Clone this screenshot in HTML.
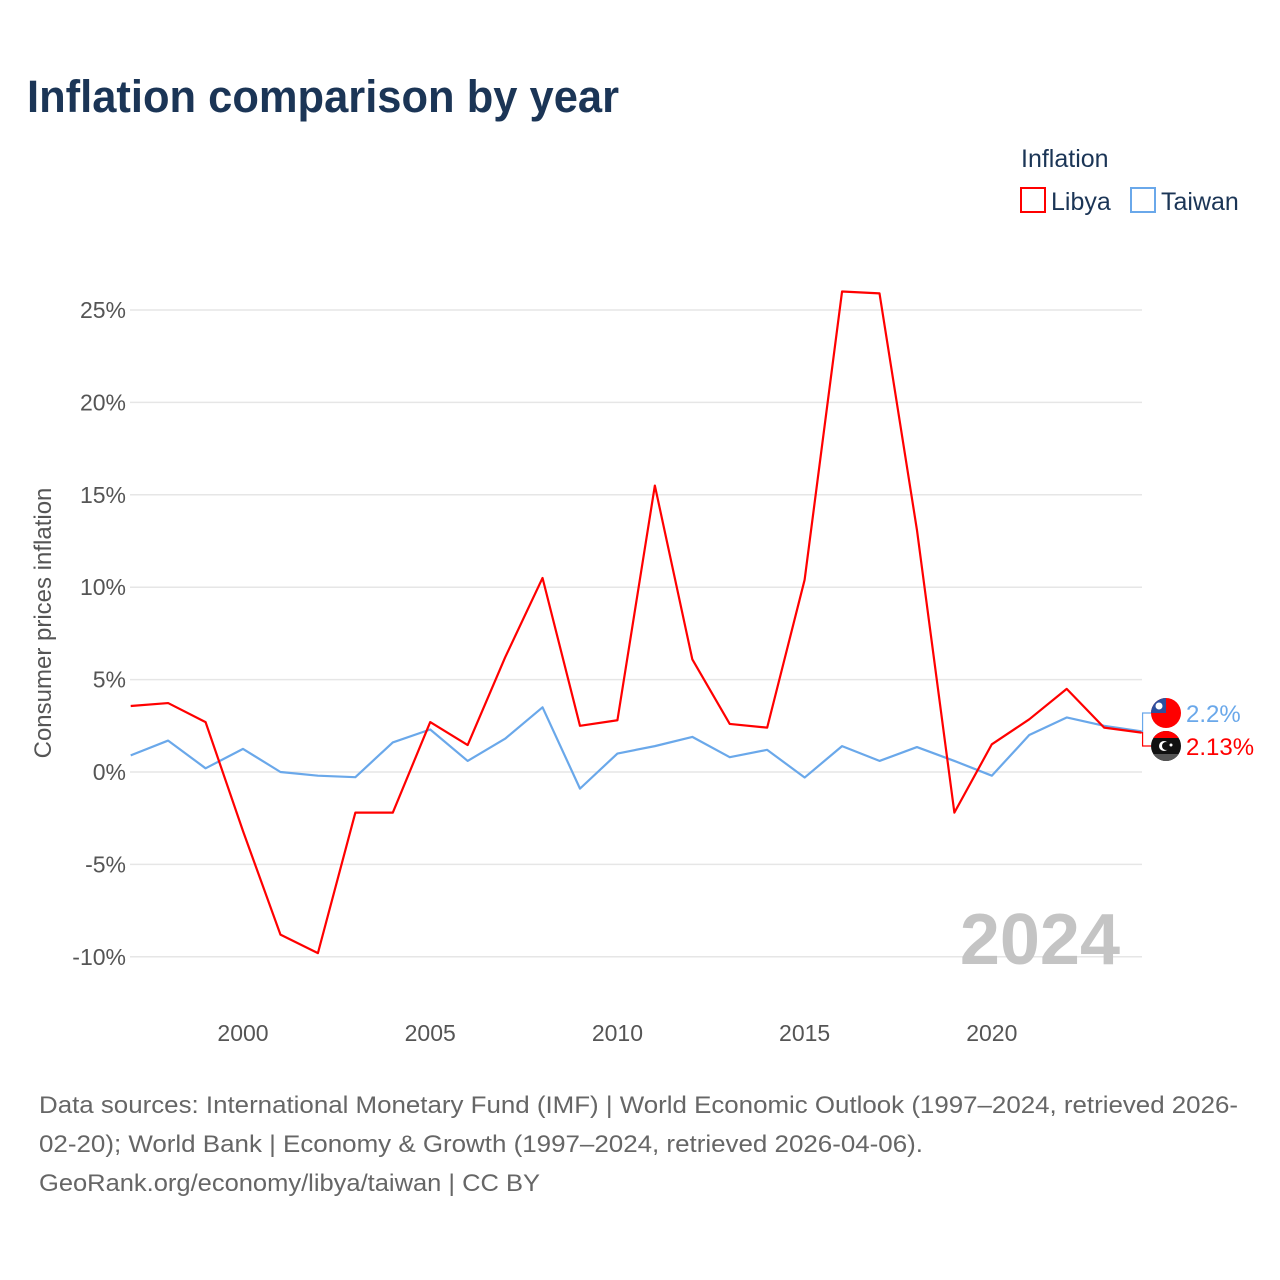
<!DOCTYPE html>
<html><head><meta charset="utf-8">
<style>
body{margin:0;background:#fff;font-family:"Liberation Sans",sans-serif;}
#wrap{position:relative;width:1280px;height:1280px;overflow:hidden;}
</style></head>
<body>
<div id="wrap">
<svg id="chart" width="1280" height="1280" xmlns="http://www.w3.org/2000/svg">
<defs>
<clipPath id="ct"><circle cx="1166" cy="713" r="15"/></clipPath>
<clipPath id="cl"><circle cx="1166" cy="746" r="15"/></clipPath>
</defs>
<text x="27" y="112" font-size="45" font-weight="bold" fill="#1b3556" textLength="592" lengthAdjust="spacingAndGlyphs">Inflation comparison by year</text>
<text x="1021" y="167" font-size="25" fill="#1b3556">Inflation</text>
<g><rect x="1021" y="188" width="24" height="24" fill="none" stroke="#f00" stroke-width="2"/><text x="1051" y="210" font-size="25" fill="#1b3556">Libya</text></g>
<g><rect x="1131" y="188" width="24" height="24" fill="none" stroke="#6aa8ea" stroke-width="2"/><text x="1161" y="210" font-size="25" fill="#1b3556">Taiwan</text></g>
<g id="grid"></g><g id="yticks"></g><g id="xticks"></g>
<text transform="translate(51,623) rotate(-90)" text-anchor="middle" font-size="24" fill="#555">Consumer prices inflation</text>
<text x="1120" y="964" text-anchor="end" font-size="72" font-weight="bold" fill="#c4c4c4">2024</text>
<g id="series"></g>
<g id="endlabels"></g>
<g clip-path="url(#ct)">
<rect x="1151" y="698" width="30" height="30" fill="#f00"/>
<rect x="1151" y="698" width="15" height="15" fill="#2d4f9e"/>
<circle cx="1159" cy="706" r="3.5" fill="#fff"/>
</g>
<g clip-path="url(#cl)">
<rect x="1151" y="731" width="30" height="30" fill="#111"/>
<rect x="1151" y="731" width="30" height="7" fill="#f00"/>
<rect x="1151" y="754" width="30" height="7" fill="#555"/>
<circle cx="1164" cy="746" r="5" fill="#fff"/>
<circle cx="1166" cy="746" r="4" fill="#111"/>
<circle cx="1171" cy="745" r="1.5" fill="#fff"/>
</g>
<text font-size="24" fill="#666"><tspan x="39" y="1113" textLength="1199" lengthAdjust="spacingAndGlyphs">Data sources: International Monetary Fund (IMF) | World Economic Outlook (1997–2024, retrieved 2026-</tspan><tspan x="39" y="1152" textLength="884" lengthAdjust="spacingAndGlyphs">02-20); World Bank | Economy &amp; Growth (1997–2024, retrieved 2026-04-06).</tspan><tspan x="39" y="1191" textLength="501" lengthAdjust="spacingAndGlyphs">GeoRank.org/economy/libya/taiwan | CC BY</tspan></text>
</svg>
</div>
<script>
const years=[1997,1998,1999,2000,2001,2002,2003,2004,2005,2006,2007,2008,2009,2010,2011,2012,2013,2014,2015,2016,2017,2018,2019,2020,2021,2022,2023,2024];
const libya=[3.57,3.73,2.7,-3.2,-8.8,-9.8,-2.2,-2.2,2.7,1.46,6.2,10.5,2.5,2.8,15.5,6.1,2.6,2.4,10.4,26.0,25.9,13.1,-2.2,1.5,2.85,4.5,2.4,2.13];
const taiwan=[0.9,1.7,0.2,1.25,0,-0.2,-0.28,1.6,2.3,0.6,1.8,3.5,-0.9,1.0,1.4,1.9,0.8,1.2,-0.3,1.4,0.6,1.35,0.6,-0.2,2.0,2.95,2.5,2.2];
const yTicks=[-10,-5,0,5,10,15,20,25];
const yTickLabels=["-10%","-5%","0%","5%","10%","15%","20%","25%"];
const xTicks=[2000,2005,2010,2015,2020];
const NS="http://www.w3.org/2000/svg";
const x=yr=>130.7+(yr-1997)*37.44;
const y=v=>772-v*18.48;
function mk(tag,attrs,parent){const e=document.createElementNS(NS,tag);for(const k in attrs)e.setAttribute(k,attrs[k]);parent.appendChild(e);return e;}
const grid=document.getElementById('grid'),yt=document.getElementById('yticks'),xt=document.getElementById('xticks'),ser=document.getElementById('series'),el=document.getElementById('endlabels');
yTicks.forEach((t,i)=>{
 const l=mk('line',{x1:130,x2:1142,y1:y(t),y2:y(t),stroke:'#e6e6e6','stroke-width':1.5},grid);
 
 
 const tx=mk('text',{x:126,y:y(t)+8,'text-anchor':'end','font-size':23,fill:'#555'},yt);
 tx.textContent=yTickLabels[i];
 
 
});
xTicks.forEach(t=>{
 const tx=mk('text',{x:x(t),y:1041,'text-anchor':'middle','font-size':23,fill:'#555'},xt);
 tx.textContent=t;
 
 
});
function line(vals,color,name){
 const p=mk('polyline',{points:vals.map((v,i)=>x(years[i])+','+y(v)).join(' '),fill:'none',stroke:color,'stroke-width':2.2,'stroke-linejoin':'round'},ser);
 
 
}
line(taiwan,'#6aa8ea','taiwan-line');
line(libya,'#f00','libya-line');
const lx=x(2024);
const ty=713,ly=746;
const c1=mk('path',{d:`M${lx},${y(taiwan[27])} H${lx+1} V${ty} H${1151}`,fill:'none',stroke:'#6aa8ea','stroke-width':1.2},el);


const c2=mk('path',{d:`M${lx},${y(libya[27])} H${lx+1} V${ly} H${1151}`,fill:'none',stroke:'#f00','stroke-width':1.2},el);


const t1=mk('text',{x:1186,y:ty+9,'font-size':24,fill:'#6aa8ea'},el);
t1.textContent=taiwan[27]+'%';


const t2=mk('text',{x:1186,y:ly+9,'font-size':24,fill:'#f00'},el);
t2.textContent=libya[27]+'%';


</script>
</body></html>
